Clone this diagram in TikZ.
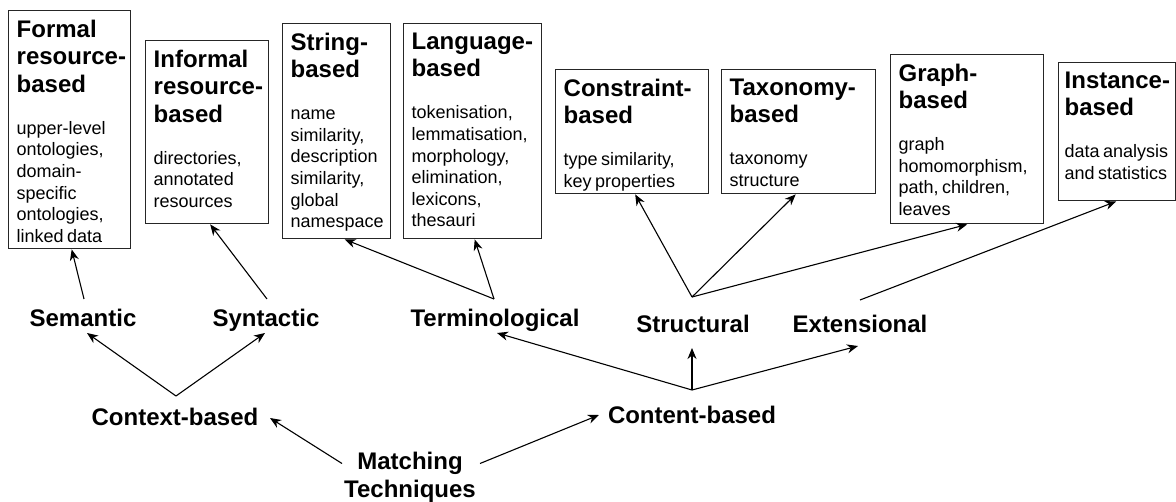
\documentclass[tikz,border=0pt]{standalone}
\usepackage{fontspec}
\setmainfont{Liberation Sans}
\usetikzlibrary{arrows.meta}
\newcommand{\ttlfont}{\fontsize{24}{27.6}\selectfont\bfseries}
\newcommand{\bdyfont}{\fontsize{18}{21.6}\selectfont}
\newcommand{\lblfont}{\fontsize{24}{28}\selectfont\bfseries}
\begin{document}
\begin{tikzpicture}[x=1pt,y=-1pt,
  box/.style={draw=black!85, line width=1.4pt, inner sep=0pt, anchor=north west},
  boxtext/.style={anchor=north west, inner sep=0pt, text width=160pt, align=left},
  lbl/.style={inner sep=0pt, font=\lblfont, align=center},
  conn/.style={line width=1.1pt, -{Stealth[length=11pt,width=9pt,inset=3.5pt]}},
  link/.style={line width=1.1pt}
]
\useasboundingbox (0,0) rectangle (1176,502);

% category boxes
\node[box, minimum width=122pt, minimum height=238pt] (formal)     at (8,10)    {};
\node[box, minimum width=123pt, minimum height=183pt] (informal)   at (145,40)  {};
\node[box, minimum width=108pt, minimum height=215pt] (string)     at (282,23)  {};
\node[box, minimum width=138pt, minimum height=215pt] (language)   at (403,23)  {};
\node[box, minimum width=153pt, minimum height=124pt] (constraint) at (555,69)  {};
\node[box, minimum width=154pt, minimum height=124pt] (taxonomy)   at (721,69)  {};
\node[box, minimum width=153pt, minimum height=169pt] (graph)      at (890,54)  {};
\node[box, minimum width=117pt, minimum height=138pt] (instance)   at (1058,62) {};

% box contents: bold heading, then the list of techniques
\node[boxtext] (formaltxt) at ([shift={(8.5,9.5)}]formal.north west)
  {{\ttlfont Formal\\resource-\\based\par}\vspace{20.4pt}
   {\bdyfont upper-level\\ontologies,\\domain-\\specific\\ontologies,\\linked data\par}};
\node[boxtext] (informaltxt) at ([shift={(8.5,9.5)}]informal.north west)
  {{\ttlfont Informal\\resource-\\based\par}\vspace{20.4pt}
   {\bdyfont directories,\\annotated\\resources\par}};
\node[boxtext] (stringtxt) at ([shift={(8.5,9.5)}]string.north west)
  {{\ttlfont String-\\based\par}\vspace{20.4pt}
   {\bdyfont name\\similarity,\\description\\similarity,\\global\\namespace\par}};
\node[boxtext] (languagetxt) at ([shift={(8.5,9.5)}]language.north west)
  {{\ttlfont Language-\\based\par}\vspace{20.4pt}
   {\bdyfont tokenisation,\\lemmatisation,\\morphology,\\elimination,\\lexicons,\\thesauri\par}};
\node[boxtext] (constrainttxt) at ([shift={(8.5,9.5)}]constraint.north west)
  {{\ttlfont Constraint-\\based\par}\vspace{20.4pt}
   {\bdyfont type similarity,\\key properties\par}};
\node[boxtext] (taxonomytxt) at ([shift={(8.5,9.5)}]taxonomy.north west)
  {{\ttlfont Taxonomy-\\based\par}\vspace{20.4pt}
   {\bdyfont taxonomy\\structure\par}};
\node[boxtext] (graphtxt) at ([shift={(8.5,9.5)}]graph.north west)
  {{\ttlfont Graph-\\based\par}\vspace{20.4pt}
   {\bdyfont graph\\homomorphism,\\path, children,\\leaves\par}};
\node[boxtext] (instancetxt) at ([shift={(6.5,9.5)}]instance.north west)
  {{\ttlfont Instance-\\based\par}\vspace{20.4pt}
   {\bdyfont data analysis\\and statistics\par}};

% classification labels
\node[lbl, anchor=base] (semantic)       at (83,327)  {Semantic};
\node[lbl, anchor=base] (syntactic)      at (266,327) {Syntactic};
\node[lbl, anchor=base] (terminological) at (495,327) {Terminological};
\node[lbl, anchor=base] (structural)     at (693,333) {Structural};
\node[lbl, anchor=base] (extensional)    at (860,333) {Extensional};
\node[lbl, anchor=base] (contextb)       at (175,426) {Context-based};
\node[lbl, anchor=base] (contentb)       at (692,424) {Content-based};
\node[lbl, anchor=north] (matching)      at (410,451.5) {Matching\\Techniques};

% root to the two families
\draw[conn] ([shift={(-68,12)}]matching.north) -- ([shift={(95,-8)}]contextb.base);
\draw[conn] ([shift={(70,12)}]matching.north) -- ([shift={(-93,-9)}]contentb.base);

% context-based branches
\draw[conn] ([shift={(1,-30)}]contextb.base) -- ([shift={(4,6)}]semantic.base);
\draw[conn] ([shift={(1,-30)}]contextb.base) -- ([shift={(-1,6)}]syntactic.base);

% content-based branches
\draw[conn] ([shift={(0,-34)}]contentb.base) -- ([shift={(2,6)}]terminological.base);
\draw[conn] ([shift={(0,-34)}]contentb.base) -- ([shift={(-1,15)}]structural.base);
\draw[conn] ([shift={(0,-34)}]contentb.base) -- ([shift={(-2,13)}]extensional.base);

% labels to technique boxes
\draw[conn] ([shift={(1,-28)}]semantic.base) -- ([xshift=2pt]formal.south);
\draw[conn] ([shift={(1,-28)}]syntactic.base) -- ([xshift=3pt]informal.south);
\draw[conn] ([shift={(-1,-28)}]terminological.base) -- ([xshift=8pt]string.south);
\draw[conn] ([shift={(-1,-28)}]terminological.base) -- ([xshift=2pt]language.south);
\draw[conn] ([shift={(-1,-36)}]structural.base) -- ([xshift=3pt]constraint.south);
\draw[conn] ([shift={(-1,-36)}]structural.base) -- ([xshift=-3pt]taxonomy.south);
\draw[conn] ([shift={(-1,-36)}]structural.base) -- (graph.south);
\draw[conn] ([shift={(0,-33)}]extensional.base) -- ([xshift=-1pt]instance.south);
\end{tikzpicture}
\end{document}
